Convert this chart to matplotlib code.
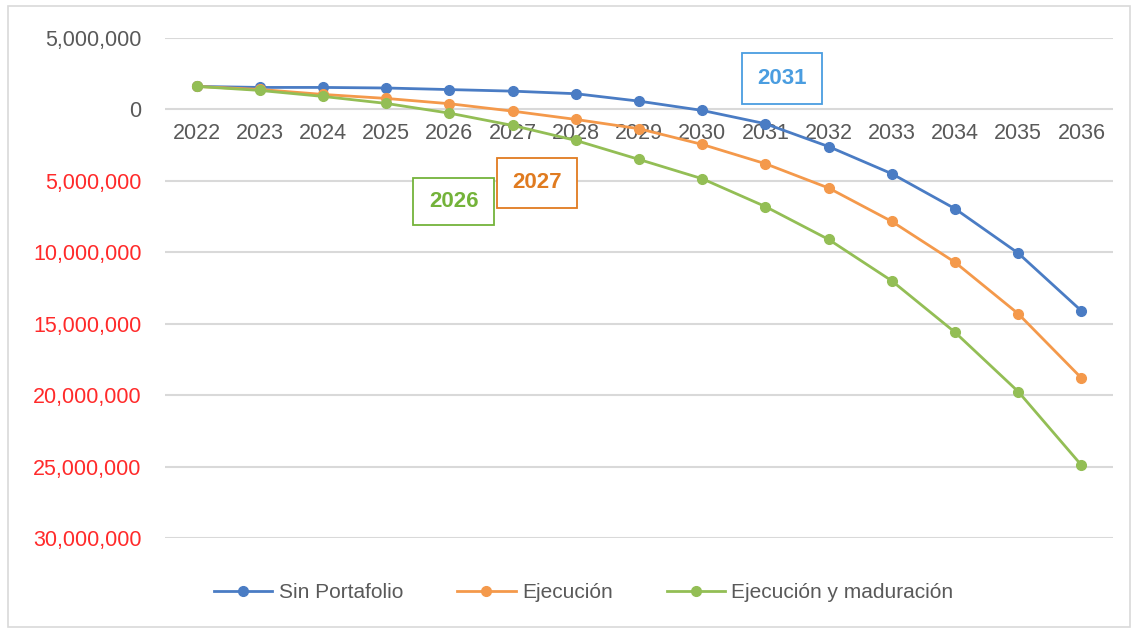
import matplotlib.pyplot as plt
import matplotlib.patches as mpatches
from matplotlib.ticker import FuncFormatter

years = list(range(2022, 2037))
sin_portafolio = [1.61, 1.54, 1.54, 1.50, 1.39, 1.28, 1.10, 0.58, -0.07, -1.00,
                  -2.60, -4.50, -6.95, -10.06, -14.10]
ejecucion = [1.61, 1.40, 1.05, 0.77, 0.40, -0.12, -0.70, -1.35, -2.45, -3.80,
             -5.50, -7.84, -10.70, -14.30, -18.80]
ejec_maduracion = [1.61, 1.33, 0.91, 0.42, -0.26, -1.12, -2.17, -3.50, -4.85, -6.80,
                   -9.10, -12.00, -15.60, -19.75, -24.90]
series_names = ['Sin Portafolio', 'Ejecución', 'Ejecución y maduración']
series_colors = ['#4a7cc4', '#f4994b', '#93be55']
box_labels = ['2031', '2027', '2026']
box_colors = ['#4a9de0', '#e07b20', '#74b33a']

plt.rcParams['font.family'] = ['Liberation Sans', 'DejaVu Sans']

fig = plt.figure(figsize=(11.38, 6.33), dpi=100)
ax = fig.add_axes([165/1138, 1 - 538/633, (1113-165)/1138, 500/633])

for vals, name, c in zip([sin_portafolio, ejecucion, ejec_maduracion], series_names, series_colors):
    ax.plot(years, [v * 1e6 for v in vals], color=c, lw=2, marker='o', ms=7, label=name)

ax.set_xlim(2021.5, 2036.5)
ax.set_ylim(-30e6, 5e6)
ax.set_yticks(range(-30000000, 5000001, 5000000))
ax.yaxis.set_major_formatter(FuncFormatter(lambda v, p: f'{abs(v):,.0f}'))
ax.grid(axis='y', color='#d9d9d9', lw=1.5)
ax.set_axisbelow(True)
for s in ax.spines.values():
    s.set_visible(False)
ax.spines['bottom'].set_position(('data', 0))
ax.set_xticks(years)
ax.tick_params(axis='x', length=0, pad=10, labelsize=15.5, labelcolor='#595959')
ax.tick_params(axis='y', length=0, pad=17, labelsize=15.5)
for lab, v in zip(ax.get_yticklabels(), ax.get_yticks()):
    lab.set_color('#ff2a2a' if v < 0 else '#595959')

# boxed year annotations (figure pixel positions)
for txt, c, (x0, y0, x1, y1) in zip(box_labels, box_colors,
                                     [(742, 53, 822, 104), (497, 158, 577, 208), (413, 178, 494, 225)]):
    fig.patches.append(mpatches.Rectangle((x0/1138, 1 - y1/633), (x1-x0)/1138, (y1-y0)/633,
                                          transform=fig.transFigure, fill=True, fc='white',
                                          ec=c, lw=1.3, zorder=5))
    fig.text((x0+x1)/2/1138, 1 - (y0+y1)/2/633, txt, color=c, fontsize=16, fontweight='bold',
             ha='center', va='center', zorder=6)

fig.legend(loc='center', bbox_to_anchor=(0.513, 1 - 593/633), ncol=3, frameon=False,
           fontsize=15, labelcolor='#595959', handlelength=2.8, columnspacing=2.6,
           handletextpad=0.3)

fig.patches.append(mpatches.Rectangle((8/1138, 6/633), 1122/1138, 621/633,
                                      transform=fig.transFigure, fill=False,
                                      ec='#d9d9d9', lw=1.2))

fig.savefig('out.png', dpi=100)
